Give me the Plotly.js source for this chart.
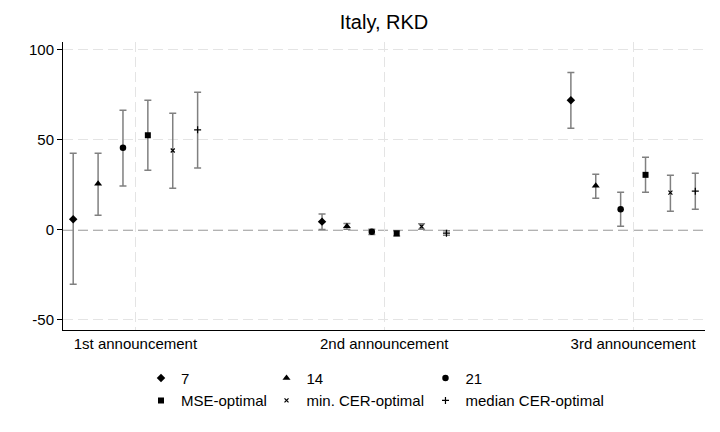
<!DOCTYPE html>
<html>
<head>
<meta charset="utf-8">
<script src="https://cdn.plot.ly/plotly-3.0.1.min.js"></script>
<style>html,body{margin:0;padding:0;background:#fff}#chart{width:720px;height:432px}</style>
</head>
<body>
<div id="chart"></div>
<script>
// Categories (announcements) and tick labels
var categories = [1, 2, 3];
var tickLabels = ["1st announcement", "2nd announcement", "3rd announcement"];

// Series names and position offsets within each category
var seriesNames = ["7", "14", "21", "MSE-optimal", "min. CER-optimal", "median CER-optimal"];
var seriesOffsets = [-0.25, -0.15, -0.05, 0.05, 0.15, 0.25];

// Point estimates per series (1st, 2nd, 3rd announcement)
var est7      = [5.9, 4.6, 72.0];
var est14     = [25.6, 2.0, 24.6];
var est21     = [45.6, -1.0, 11.5];
var estMSE    = [52.6, -1.9, 30.6];
var estMinCER = [44.1, 1.9, 20.7];
var estMedCER = [55.6, -1.8, 21.5];

// Upper confidence bounds
var hi7      = [42.6, 8.9, 87.4];
var hi14     = [42.6, 3.5, 30.9];
var hi21     = [66.5, 0.4, 20.9];
var hiMSE    = [72.0, -0.4, 40.4];
var hiMinCER = [64.8, 3.4, 30.4];
var hiMedCER = [76.5, -0.5, 31.5];

// Lower confidence bounds
var lo7      = [-30.2, 0.2, 56.5];
var lo14     = [8.1, 0.4, 17.6];
var lo21     = [24.4, -2.5, 2.0];
var loMSE    = [33.2, -3.4, 20.9];
var loMinCER = [23.1, 0.4, 10.4];
var loMedCER = [34.4, -3.0, 11.5];

var estimates = [est7, est14, est21, estMSE, estMinCER, estMedCER];
var highs = [hi7, hi14, hi21, hiMSE, hiMinCER, hiMedCER];
var lows = [lo7, lo14, lo21, loMSE, loMinCER, loMedCER];

var yTickVals = [-50, 0, 50, 100];
var yTickText = ["-50", "0", "50", "100"];

var symbols = ["diamond", "triangle-up", "circle", "square", "x-thin", "cross-thin"];
var sizes = [6.5, 7, 6.5, 6, 4, 5];
var legendIds = ["legend", "legend2", "legend3", "legend", "legend2", "legend3"];

var traces = seriesNames.map(function (name, i) {
  var ys = estimates[i];
  return {
    type: "scatter",
    mode: "markers",
    name: name,
    legend: legendIds[i],
    x: categories.map(function (c) { return c + seriesOffsets[i]; }),
    y: ys,
    error_y: {
      type: "data",
      symmetric: false,
      array: highs[i].map(function (h, k) { return h - ys[k]; }),
      arrayminus: lows[i].map(function (l, k) { return ys[k] - l; }),
      color: "#808080",
      thickness: 1.5,
      width: 3.5
    },
    marker: {
      symbol: symbols[i],
      size: sizes[i],
      color: "#000000",
      line: { color: "#000000", width: (i >= 4 ? 1.2 : 0) }
    },
    hoverinfo: "x+y"
  };
});

var legendBase = {
  orientation: "v",
  yanchor: "top",
  xanchor: "left",
  y: -0.11,
  font: { family: "Liberation Sans, Arial, sans-serif", size: 15, color: "#000" },
  bgcolor: "rgba(0,0,0,0)",
  borderwidth: 0,
  tracegroupgap: 0
};

var layout = {
  width: 720,
  height: 432,
  margin: { l: 63, r: 15, t: 42, b: 102 },
  paper_bgcolor: "#ffffff",
  plot_bgcolor: "#ffffff",
  font: { family: "Liberation Sans, Arial, sans-serif", size: 14, color: "#000" },
  title: {
    text: "Italy, RKD",
    x: 0.5, xref: "paper", xanchor: "center",
    y: 0.95, yanchor: "middle",
    font: { size: 20, color: "#000" }
  },
  xaxis: {
    range: [0.709, 3.289],
    tickvals: categories,
    ticktext: tickLabels,
    showgrid: true,
    gridcolor: "#e4e4e4",
    griddash: "10px,5px",
    gridwidth: 1,
    zeroline: false,
    showline: true,
    linecolor: "#000",
    linewidth: 1,
    ticks: "",
    tickfont: { size: 15, color: "#000" },
    fixedrange: true
  },
  yaxis: {
    range: [-55.6, 104.4],
    tickvals: yTickVals,
    ticktext: yTickText,
    showgrid: true,
    gridcolor: "#e4e4e4",
    griddash: "10px,5px",
    gridwidth: 1,
    zeroline: false,
    showline: true,
    linecolor: "#000",
    linewidth: 1,
    ticks: "outside",
    ticklen: 5,
    tickcolor: "#000",
    tickfont: { size: 15, color: "#000" },
    fixedrange: true
  },
  shapes: [{
    type: "line",
    xref: "paper", x0: 0, x1: 1,
    yref: "y", y0: 0, y1: 0,
    line: { color: "#999999", width: 1.5, dash: "10px,5px" },
    layer: "below"
  }],
  showlegend: true,
  legend: Object.assign({}, legendBase, { x: 0.1215 }),
  legend2: Object.assign({}, legendBase, { x: 0.317 }),
  legend3: Object.assign({}, legendBase, { x: 0.5646 })
};

Plotly.newPlot("chart", traces, layout, { displayModeBar: false, staticPlot: true });
</script>
</body>
</html>
